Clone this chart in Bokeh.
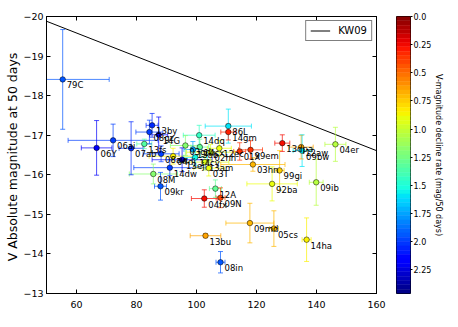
import numpy as np
from bokeh.plotting import figure
from bokeh.models import (ColumnDataSource, LinearColorMapper, LinearAxis, FixedTicker,
                          Range1d, Label, Legend, LegendItem)
from bokeh.layouts import row
from bokeh.transform import transform
from bokeh.core.properties import value
from bokeh.embed import file_html
from bokeh.resources import INLINE

# ---------------- data ----------------
names = ["79C", "06Y", "06ai", "07ab", "13fs", "13by", "08gz", "14G", "13ej", "14dw",
         "08M", "09kr", "14dq", "03gd", "13ab", "14cx", "12ec", "14cy", "02hh", "04dj",
         "08aw", "03T", "13am", "86L", "14gm", "01X", "99em", "03hn", "99gi", "92ba",
         "09ib", "13dpa", "12aw", "09bw", "04er", "12A", "04fx", "09N", "13bu", "08in",
         "09md", "05cs", "14ha"]
t_pt = [55.4, 66.7, 72.2, 78.2, 82.6, 85.2, 84.3, 87.4, 95.2, 91.1,
        85.6, 88.0, 100.9, 96.3, 98.8, 101.1, 107.6, 99.6, 104.7, 92.2,
        88.2, 104.1, 102.8, 110.6, 110.6, 114.4, 118.0, 118.8, 127.7, 125.2,
        139.9, 128.6, 134.9, 135.2, 146.3, 106.3, 102.6, 108.0, 103.0, 108.0,
        117.8, 125.8, 136.7]
t_err = [15.5, 5.1, 15.0, 4.0, 2.5, 2.0, 4.5, 3.0, 10.0, 12.0,
         8.0, 2.0, 5.3, 5.0, 3.0, 3.0, 4.0, 4.0, 8.0, 8.0,
         6.0, 5.0, 8.0, 7.7, 2.5, 2.0, 4.0, 10.7, 1.5, 8.4,
         2.3, 2.5, 4.0, 3.0, 3.5, 2.0, 4.3, 1.5, 5.1, 1.5,
         8.0, 1.5, 1.5]
m_v = [-18.41, -16.68, -16.87, -16.67, -16.78, -17.25, -17.08, -17.01, -16.38, -16.18,
       -16.02, -15.71, -17.00, -16.74, -16.64, -16.70, -16.67, -16.44, -16.57, -16.47,
       -16.53, -16.17, -16.32, -17.23, -17.08, -16.59, -16.63, -16.26, -16.11, -15.77,
       -15.81, -16.80, -16.70, -16.61, -16.77, -15.65, -15.40, -15.42, -14.46, -13.79,
       -14.78, -14.64, -14.36]
m_err = [1.26, 0.69, 0.41, 0.67, 0.12, 0.30, 0.30, 0.45, 0.30, 0.20,
         0.25, 0.35, 0.25, 0.25, 0.20, 0.20, 0.20, 0.20, 0.20, 0.20,
         0.20, 0.20, 0.20, 0.43, 0.20, 0.22, 0.23, 0.17, 0.50, 0.43,
         0.58, 0.21, 0.30, 0.40, 0.43, 0.22, 0.22, 0.25, 0.05, 0.27,
         0.50, 0.45, 0.55]
decline = [1.95, 2.2, 2.0, 2.05, 1.35, 2.05, 2.0, 2.2, 2.2, 2.0,
           1.2, 1.95, 1.45, 1.2, 1.75, 1.3, 0.9, 1.55, 0.95, 0.85,
           2.0, 0.9, 0.95, 1.6, 0.3, 0.35, 0.35, 0.7, 0.75, 0.9,
           1.05, 0.25, 0.65, 1.6, 1.05, 1.3, 0.25, 0.4, 0.65, 1.95,
           0.7, 0.7, 0.85]

kw09_t = [50, 160]
kw09_m = [-19.88, -16.61]

x_ticks = [60, 80, 100, 120, 140, 160]
y_ticks = [-20, -19, -18, -17, -16, -15, -14, -13]
cbar_ticks = [0.0, 0.25, 0.5, 0.75, 1.0, 1.25, 1.5, 1.75, 2.0, 2.25]
cbar_labels = ["0.0", "0.25", "0.5", "0.75", "1.0", "1.25", "1.5", "1.75", "2.0", "2.25"]
DECL_MIN, DECL_MAX = 0.0, 2.46

FONT = "DejaVu Sans"

# ---------------- colormap (jet, reversed) ----------------
def jet(v):
    r = np.interp(v, [0, 0.35, 0.66, 0.89, 1], [0, 0, 1, 1, 0.5])
    g = np.interp(v, [0, 0.125, 0.375, 0.64, 0.91, 1], [0, 0, 1, 1, 0, 0])
    b = np.interp(v, [0, 0.11, 0.34, 0.65, 1], [0.5, 1, 1, 0, 0])
    return "#%02x%02x%02x" % (int(round(r * 255)), int(round(g * 255)), int(round(b * 255)))

palette = [jet(1 - i / 255) for i in range(256)]
mapper = LinearColorMapper(palette=palette, low=DECL_MIN, high=DECL_MAX)

t = np.array(t_pt); te = np.array(t_err); m = np.array(m_v); me = np.array(m_err)
src = ColumnDataSource(dict(
    t=t, m=m, d=decline, name=names,
    tl=t - te, tr=t + te, mb=m - me, mt=m + me,
))

H = 319
TOP, BOTTOM = 16, 26

# ---------------- main figure ----------------
p = figure(width=396, height=H, x_range=Range1d(50, 160), y_range=Range1d(-13, -20),
           output_backend="svg", toolbar_location=None,
           min_border_left=46, min_border_right=20, min_border_top=TOP, min_border_bottom=BOTTOM)
p.grid.visible = False
p.outline_line_color = "black"
p.outline_line_width = 1
p.background_fill_color = "white"
p.border_fill_color = "white"

# extra axes for inward ticks on top/right (no labels)
top_ax = LinearAxis(ticker=FixedTicker(ticks=x_ticks),
                    major_label_overrides={v: "" for v in x_ticks})
right_ax = LinearAxis(ticker=FixedTicker(ticks=y_ticks),
                      major_label_overrides={v: "" for v in y_ticks})
p.add_layout(top_ax, "above")
p.add_layout(right_ax, "right")

p.xaxis[0].ticker = FixedTicker(ticks=x_ticks)
p.yaxis[0].ticker = FixedTicker(ticks=y_ticks)
p.yaxis[0].major_label_overrides = {v: ("\u2212%d" % abs(v)) for v in y_ticks}
for ax in p.axis:
    ax.major_tick_in = 4
    ax.major_tick_out = 0
    ax.minor_tick_line_color = None
    ax.axis_line_color = "black"
    ax.major_tick_line_color = "black"
    ax.major_label_text_font = FONT
    ax.major_label_text_font_size = "9.5px"
    ax.major_label_text_color = "black"
    ax.major_label_standoff = 3
top_ax.major_label_standoff = 0
right_ax.major_label_standoff = 0

p.yaxis[0].axis_label = "V  Absolute magnitude at 50 days"
p.yaxis[0].axis_label_text_font = FONT
p.yaxis[0].axis_label_text_font_size = "12.5px"
p.yaxis[0].axis_label_text_font_style = "normal"
p.yaxis[0].axis_label_text_color = "black"
p.yaxis[0].axis_label_standoff = 0

# KW09 line
kw = p.line(kw09_t, kw09_m, line_color="black", line_width=1)

# error bars
cmap_line = transform("d", mapper)
p.segment(x0="tl", x1="tr", y0="m", y1="m", source=src, line_color=cmap_line,
          line_width=1, line_alpha=0.7)
p.segment(x0="t", x1="t", y0="mb", y1="mt", source=src, line_color=cmap_line,
          line_width=1, line_alpha=0.7)
for xc, yc, ang in (("tl", "m", np.pi / 2), ("tr", "m", np.pi / 2),
                    ("t", "mb", 0.0), ("t", "mt", 0.0)):
    p.scatter(x=xc, y=yc, source=src, marker="dash", size=5, angle=ang,
              line_color=cmap_line, line_width=1, line_alpha=0.7)

# points
p.scatter(x="t", y="m", source=src, marker="circle", size=5.5,
          fill_color=transform("d", mapper), line_color="black", line_width=0.5)

# point labels
p.text(x="t", y="m", text="name", source=src, x_offset=4, y_offset=1,
       text_baseline="top", text_align="left", text_font=value(FONT),
       text_font_size="8.5px", text_color="black")

legend = Legend(items=[LegendItem(label="KW09", renderers=[kw])], location="top_right")
legend.label_text_font = FONT
legend.label_text_font_size = "10px"
legend.label_text_color = "black"
legend.border_line_color = "black"
legend.border_line_width = 1
legend.padding = 4
legend.margin = 4
legend.glyph_width = 20
legend.glyph_height = 9
legend.label_height = 9
legend.label_standoff = 8
legend.background_fill_alpha = 1
p.add_layout(legend)

# x-axis label: t_PT [days]
p.add_layout(Label(x=97.0, y=-13, y_offset=-23, text="t", text_font=FONT,
                   text_font_style="italic", text_font_size="12px", text_color="black"))
p.add_layout(Label(x=98.8, y=-13, y_offset=-26, text="PT", text_font=FONT,
                   text_font_style="italic", text_font_size="8px", text_color="black"))
p.add_layout(Label(x=102.3, y=-13, y_offset=-23, text="[days]", text_font=FONT,
                   text_font_size="12px", text_color="black"))

# ---------------- colorbar figure ----------------
n_bins = 64
edges = np.linspace(DECL_MIN, DECL_MAX, n_bins + 1)
cb_src = ColumnDataSource(dict(bottom=edges[:-1], top=edges[1:],
                               mid=0.5 * (edges[:-1] + edges[1:])))
cb = figure(width=53, height=H, x_range=Range1d(0, 1), y_range=Range1d(DECL_MAX, DECL_MIN),
            output_backend="svg", toolbar_location=None, y_axis_location="right",
            min_border_left=0, min_border_right=39, min_border_top=TOP, min_border_bottom=BOTTOM)
cb.quad(left=0, right=1, bottom="bottom", top="top", source=cb_src,
        fill_color=transform("mid", mapper), line_color=transform("mid", mapper), line_width=0.5)
cb.grid.visible = False
cb.xaxis.visible = False
cb.outline_line_color = "black"
cb.outline_line_width = 1
cb.border_fill_color = "white"
ya = cb.yaxis[0]
ya.ticker = FixedTicker(ticks=cbar_ticks)
ya.major_label_overrides = {v: s for v, s in zip(cbar_ticks, cbar_labels)}
ya.major_tick_in = 0
ya.major_tick_out = 2
ya.minor_tick_line_color = None
ya.axis_line_color = None
ya.major_tick_line_color = "black"
ya.major_label_text_font = FONT
ya.major_label_text_font_size = "8px"
ya.major_label_text_color = "black"
ya.major_label_standoff = 1
ya.axis_label = "V-magnitude decline rate (mag/50 days)"
ya.axis_label_text_font = FONT
ya.axis_label_text_font_size = "8px"
ya.axis_label_text_font_style = "normal"
ya.axis_label_text_color = "black"
ya.axis_label_standoff = 0

layout = row(p, cb)
open("out.html", "w").write(file_html(layout, INLINE))
